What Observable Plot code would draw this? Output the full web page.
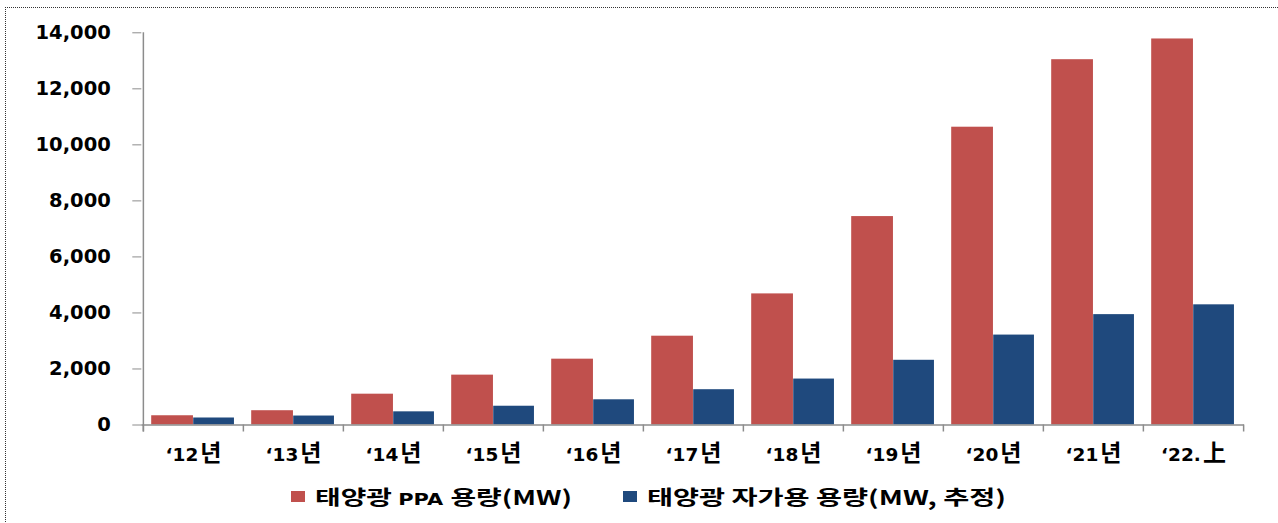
<!DOCTYPE html>
<html>
<head>
<meta charset="utf-8">
<script src="https://cdn.jsdelivr.net/npm/d3@7"></script>
<script src="https://cdn.jsdelivr.net/npm/@observablehq/plot@0.6"></script>
<style>
  html, body { margin: 0; padding: 0; background: #fff; overflow: hidden; }
  #frame { position: absolute; left: 5px; top: 7px; width: 1400px; height: 600px;
           border-left: 1px dotted #333; border-top: 1px dotted #333; pointer-events: none; }
  #chart { position: absolute; left: 0; top: 0; }
  #legend { position: absolute; left: 0; top: 475px; width: 1278px; height: 44px;
            font-family: "DejaVu Sans", "Noto Sans CJK KR", sans-serif; font-weight: bold; color: #000; }
  .item { position: absolute; top: 0; height: 44px; }
  .sw { position: absolute; top: 16px; left: 0; width: 14px; height: 11px; }
  .lab { position: absolute; left: 24px; top: 0; height: 44px; line-height: 44px; white-space: nowrap;
         display: inline-block; transform-origin: 0 50%; }
  .ko { font-family: "Noto Sans CJK KR", sans-serif; font-size: 20px; font-weight: bold; }
  .la { font-family: "DejaVu Sans", sans-serif; font-size: 15px; font-weight: bold; }
</style>
</head>
<body>
<div id="chart"></div>
<div id="legend"></div>
<div id="frame"></div>
<script>
const categories = ["‘12년", "‘13년", "‘14년", "‘15년", "‘16년", "‘17년", "‘18년", "‘19년", "‘20년", "‘21년", "‘22.上"];
const ppaValues  = [330, 510, 1100, 1780, 2350, 3170, 4680, 7440, 10630, 13040, 13780];
const selfValues = [250, 320, 470, 670, 900, 1260, 1640, 2310, 3210, 3940, 4290];
const yTicks = [0, 2000, 4000, 6000, 8000, 10000, 12000, 14000];
const seriesNames = ["태양광 PPA 용량(MW)", "태양광 자가용 용량(MW, 추정)"];
const colors = ["#C0504D", "#1F497D"];

const ppa = categories.map((c, i) => ({cat: c, value: ppaValues[i]}));
const self = categories.map((c, i) => ({cat: c, value: selfValues[i]}));

const axisGray = "#8c8c8c";
const bandW = (1244 - 141.3) / categories.length;

const chart = Plot.plot({
  width: 1278,
  height: 475,
  marginLeft: 141.3,
  marginRight: 34,
  marginTop: 32.3,
  marginBottom: 50.5,
  style: {fontFamily: "'DejaVu Sans', 'Noto Sans CJK KR', sans-serif", fontWeight: "bold", color: "#000", background: "transparent"},
  x: {domain: categories, padding: 0, label: null},
  y: {domain: [0, 14000], label: null},
  marks: [
    Plot.barY(ppa, {x: "cat", y: "value", fill: colors[0], insetLeft: 8.2, insetRight: bandW - 8.2 - 42}),
    Plot.barY(self, {x: "cat", y: "value", fill: colors[1], insetLeft: 50.2, insetRight: bandW - 50.2 - 41}),
    Plot.axisY({ticks: yTicks, tickFormat: d3.format(","), tickSize: 9, tickPadding: 22,
                stroke: axisGray, fill: "#000", fontSize: 19.5, fontWeight: "bold", label: null}),
    Plot.axisX({tickSize: 0, tickPadding: 23, fontSize: 18.5, fontWeight: "bold", fill: "#000", label: null}),
    Plot.ruleX(categories, {x: d => d, dx: -bandW / 2, y1: -250, y2: 0, stroke: axisGray, strokeWidth: 1.5}),
    Plot.ruleX([categories[categories.length - 1]], {x: d => d, dx: bandW / 2, y1: -250, y2: 0, stroke: axisGray, strokeWidth: 1.5}),
    Plot.ruleX([categories[0]], {x: d => d, dx: -bandW / 2, y1: -250, y2: 14000, stroke: axisGray, strokeWidth: 1.5}),
    Plot.ruleY([0], {stroke: axisGray, strokeWidth: 1.5})
  ]
});
document.getElementById("chart").appendChild(chart);

// Enlarge the CJK part of the x tick labels (as in the reference)
d3.select(chart).selectAll('g[aria-label="x-axis tick label"] text').each(function() {
  const t = this.textContent;
  const m = t.match(/^(.*?)([\u3131-\uD79D\u4E00-\u9FFF]+)$/);
  if (!m) return;
  const sel = d3.select(this);
  sel.text(m[1]);
  sel.append("tspan").attr("font-family", "'Noto Sans CJK KR', sans-serif")
     .attr("font-size", 23).attr("dx", 2).text(m[2]);
});

// Legend
const legend = document.getElementById("legend");
const legendX = [291, 623];
const targetW = [257, 359];
const parts = [
  [["ko", "태양광 "], ["la", "PPA "], ["ko", "용량(MW)"]],
  [["ko", "태양광 자가용 용량(MW, 추정)"]]
];
parts.forEach((p, i) => {
  const item = document.createElement("div");
  item.className = "item";
  item.style.left = legendX[i] + "px";
  const sw = document.createElement("div");
  sw.className = "sw";
  sw.style.background = colors[i];
  item.appendChild(sw);
  const label = document.createElement("span");
  label.className = "lab";
  label.title = seriesNames[i];
  p.forEach(([cls, txt]) => {
    const s = document.createElement("span");
    s.className = cls;
    s.textContent = txt;
    s.style.whiteSpace = "pre";
    label.appendChild(s);
  });
  item.appendChild(label);
  legend.appendChild(item);
  const w = label.getBoundingClientRect().width;
  label.style.transform = `scaleX(${targetW[i] / w})`;
});
</script>
</body>
</html>
